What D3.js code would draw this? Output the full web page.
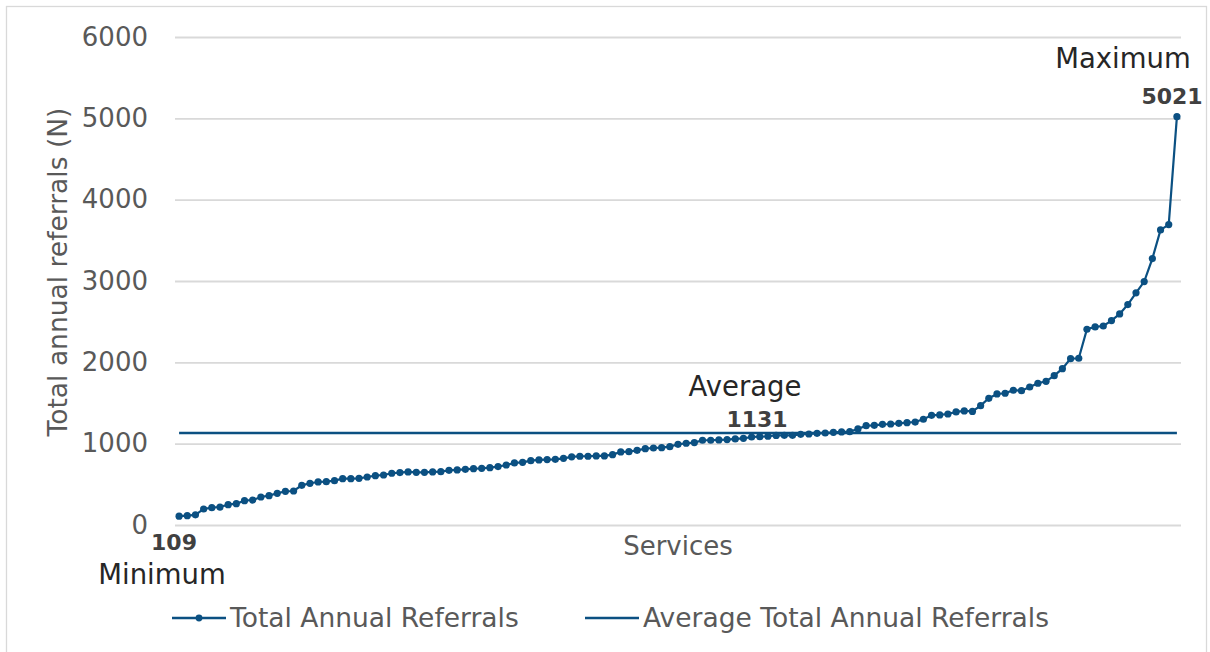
<!DOCTYPE html>
<html>
<head>
<meta charset="utf-8">
<script src="https://cdn.jsdelivr.net/npm/d3@7"></script>
<style>
  html, body { margin: 0; padding: 0; background: #fff; }
  svg { display: block; font-family: "DejaVu Sans", sans-serif; }
</style>
</head>
<body>
<div id="chart"></div>
<script>
// referrals per service, sorted ascending
const referrals = [
  109, 115, 125, 197, 213, 221, 250, 262, 299, 307, 344, 361, 390, 414, 418, 488, 513, 529, 533, 545, 570, 570, 574, 590, 607,
  615, 636, 644, 652, 648, 648, 652, 656, 672, 677, 685, 693, 697, 705, 718, 738, 763, 771, 791, 800, 804, 808, 820, 838, 845,
  845, 849, 849, 865, 898, 902, 918, 939, 947, 951, 963, 992, 1005, 1013, 1042, 1042, 1046, 1050, 1058, 1066, 1082, 1086, 1091, 1101,
  1103, 1103, 1115, 1119, 1127, 1131, 1140, 1144, 1148, 1181, 1221, 1226, 1238, 1242, 1250, 1258, 1266, 1300, 1349, 1353, 1365, 1390, 1402, 1396,
  1467, 1558, 1611, 1620, 1657, 1652, 1697, 1743, 1767, 1836, 1922, 2045, 2050, 2407, 2435, 2447, 2513, 2595, 2710, 2854, 2993, 3276, 3628, 3694, 5021
]
const services = referrals.map((_, i) => i + 1)
const average = 1131
const minimum = 109
const maximum = 5021
const yTicks = [0, 1000, 2000, 3000, 4000, 5000, 6000]
const seriesNames = ['Total Annual Referrals', 'Average Total Annual Referrals']

const width = 1210
const height = 652
const blue = '#0b5082'
const grey = '#595959'

const svg = d3.select('#chart')
  .append('svg')
  .attr('width', width)
  .attr('height', height)

// outer frame
svg.append('rect')
  .attr('x', 6.5).attr('y', 6.5)
  .attr('width', 1200).attr('height', 660)
  .attr('fill', 'none')
  .attr('stroke', '#d9d9d9')
  .attr('stroke-width', 1.3)

const plotLeft = 175, plotRight = 1181, plotTop = 37, plotBottom = 525

const x = d3.scalePoint()
  .domain(services)
  .range([plotLeft, plotRight])
  .padding(0.5)

const y = d3.scaleLinear()
  .domain([0, 6000])
  .range([plotBottom, plotTop])

// y axis with gridlines
const yAxis = svg.append('g')
  .attr('transform', `translate(${plotLeft},0)`)
  .call(d3.axisLeft(y).tickValues(yTicks).tickSize(-(plotRight - plotLeft)).tickPadding(27).tickFormat(d3.format('d')))

yAxis.select('.domain').remove()
yAxis.selectAll('.tick line')
  .attr('stroke', '#d9d9d9')
  .attr('stroke-width', 1.8)
yAxis.selectAll('.tick text')
  .attr('fill', grey)
  .style('font-size', '26px')
  .style('font-family', '"DejaVu Sans", sans-serif')

// axis titles
svg.append('text')
  .attr('transform', `translate(67,272) rotate(-90)`)
  .attr('text-anchor', 'middle')
  .attr('fill', grey)
  .style('font-size', '26.5px')
  .text('Total annual referrals (N)')

svg.append('text')
  .attr('x', 678).attr('y', 555)
  .attr('text-anchor', 'middle')
  .attr('fill', grey)
  .style('font-size', '26px')
  .text('Services')

// average line
svg.append('line')
  .attr('x1', x(services[0]))
  .attr('x2', x(services[services.length - 1]))
  .attr('y1', y(average))
  .attr('y2', y(average))
  .attr('stroke', blue)
  .attr('stroke-width', 2.5)

// referrals line + markers
const line = d3.line()
  .x((_, i) => x(services[i]))
  .y(d => y(d))

svg.append('path')
  .datum(referrals)
  .attr('d', line)
  .attr('fill', 'none')
  .attr('stroke', blue)
  .attr('stroke-width', 2.2)

svg.selectAll('circle.pt')
  .data(referrals)
  .enter()
  .append('circle')
  .attr('class', 'pt')
  .attr('cx', (_, i) => x(services[i]))
  .attr('cy', d => y(d))
  .attr('r', 3.6)
  .attr('fill', blue)

// annotations
const notes = [
  { label: 'Minimum', value: minimum, lx: 162, ly: 584, vx: 174, vy: 550 },
  { label: 'Average', value: average, lx: 745, ly: 396, vx: 757, vy: 427 },
  { label: 'Maximum', value: maximum, lx: 1123, ly: 68, vx: 1172, vy: 104 }
]
notes.forEach(n => {
  svg.append('text')
    .attr('x', n.lx).attr('y', n.ly)
    .attr('text-anchor', 'middle')
    .attr('fill', '#262626')
    .style('font-size', '27.5px')
    .text(n.label)
  svg.append('text')
    .attr('x', n.vx).attr('y', n.vy)
    .attr('text-anchor', 'middle')
    .attr('fill', '#404040')
    .style('font-size', '22px')
    .style('font-weight', 'bold')
    .text(n.value)
})

// legend
const legend = svg.append('g').attr('transform', 'translate(0,618)')
const legendX = [172, 585]
seriesNames.forEach((name, i) => {
  const g = legend.append('g').attr('transform', `translate(${legendX[i]},0)`)
  g.append('line')
    .attr('x1', 0).attr('x2', 54)
    .attr('stroke', blue)
    .attr('stroke-width', 2.5)
  if (i === 0) {
    g.append('circle').attr('cx', 27).attr('r', 3.4).attr('fill', blue)
  }
  g.append('text')
    .attr('x', 58).attr('y', 9)
    .attr('fill', grey)
    .style('font-size', '26.5px')
    .text(name)
})
</script>
</body>
</html>
